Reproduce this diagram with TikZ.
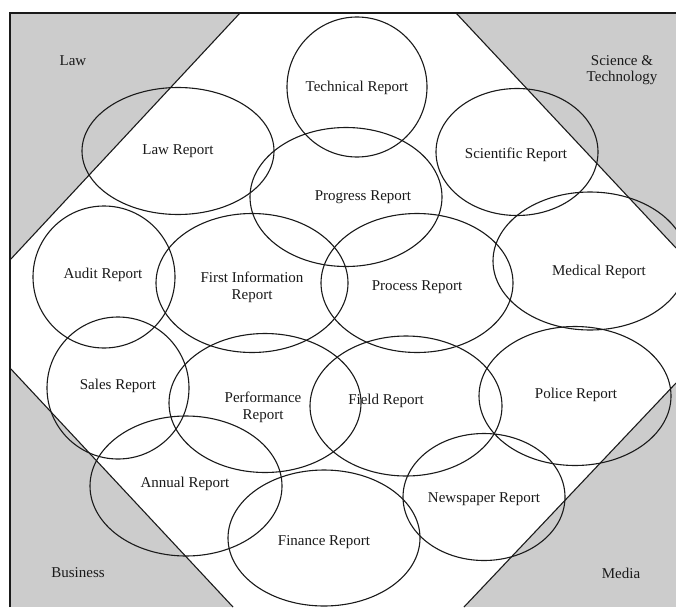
\documentclass[tikz,border=0pt]{standalone}
\usepackage{fontspec}
\setmainfont{Liberation Serif}
\usetikzlibrary{shapes.geometric}
\definecolor{cshade}{HTML}{CCCCCC}
\definecolor{cline}{HTML}{1A1A1A}
\tikzset{
  every picture/.style={x=1pt, y=-1pt, line width=1.1pt},
  report/.style={ellipse, draw=cline, inner sep=0pt, minimum width=2*#1},
  report/.default=96,
  rtitle/.style={font=\fontsize{15}{16.5}\selectfont, text=cline, align=center, inner sep=1pt, yshift=-1.5pt},
  area/.style={font=\fontsize{15}{16.5}\selectfont, text=cline, align=center, yshift=-1pt},
}

\begin{document}
\begin{tikzpicture}
  \useasboundingbox (0,0) rectangle (676,607);
  \begin{scope}
    \clip (10,13) rectangle (676,607);
    % grey corners, white octagon in the middle
    \fill[cshade] (10,13) rectangle (676,607);
    \fill[white] (240,13) -- (456,13) -- (676,248) -- (676,383)
      -- (464,607) -- (233,607) -- (10,368) -- (10,260) -- cycle;
    \draw[cline] (240,13) -- (10,260);
    \draw[cline] (456,13) -- (676,248);
    \draw[cline] (676,383) -- (464,607);
    \draw[cline] (233,607) -- (10,368);
    % report ellipses
    \node[report=70, minimum height=140] (tech) at (357,87) {};
    \node[report, minimum height=127] (law) at (178,151) {};
    \node[report, minimum height=139] (prog) at (346,197) {};
    \node[report=81, minimum height=127] (sci) at (517,152) {};
    \node[report=97, minimum height=138] (med) at (590,261) {};
    \node[report=71, minimum height=142] (audit) at (104,277) {};
    \node[report, minimum height=139] (fir) at (252,283) {};
    \node[report, minimum height=139] (proc) at (417,283) {};
    \node[report=71, minimum height=142] (sales) at (118,388) {};
    \node[report, minimum height=139] (perf) at (265,403) {};
    \node[report, minimum height=140] (fld) at (406,406) {};
    \node[report, minimum height=139] (pol) at (575,396) {};
    \node[report, minimum height=140] (annual) at (186,486) {};
    \node[report, minimum height=136] (fin) at (324,538) {};
    \node[report=81, minimum height=127] (news) at (484,497) {};
  \end{scope}
  \draw[cline] (10,607) -- (10,13) -- (676,13);
  % labels
  \node[rtitle] (techL) at (357,86) {Technical Report};
  \node[rtitle] (lawL) at (178,150) {Law Report};
  \node[rtitle] (progL) at (363,196) {Progress Report};
  \node[rtitle] (sciL) at (516,153) {Scientific Report};
  \node[rtitle] (medL) at (599,270) {Medical Report};
  \node[rtitle] (auditL) at (103,273) {Audit Report};
  \node[rtitle] (firL) at (252,286) {First Information\\Report};
  \node[rtitle] (procL) at (417,286) {Process Report};
  \node[rtitle] (salesL) at (118,384) {Sales Report};
  \node[rtitle] (perfL) at (263,406) {Performance\\Report};
  \node[rtitle] (fldL) at (386,399) {Field Report};
  \node[rtitle] (polL) at (576,393) {Police Report};
  \node[rtitle] (annualL) at (185,482) {Annual Report};
  \node[rtitle] (finL) at (324,541) {Finance Report};
  \node[rtitle] (newsL) at (484,498) {Newspaper Report};
  % corner fields
  \node[area] (lawF) at (73,60) {Law};
  \node[area] (sciF) at (622,69) {Science \&\\Technology};
  \node[area] (busF) at (78,572) {Business};
  \node[area] (medF) at (621,572) {Media};
\end{tikzpicture}
\end{document}
